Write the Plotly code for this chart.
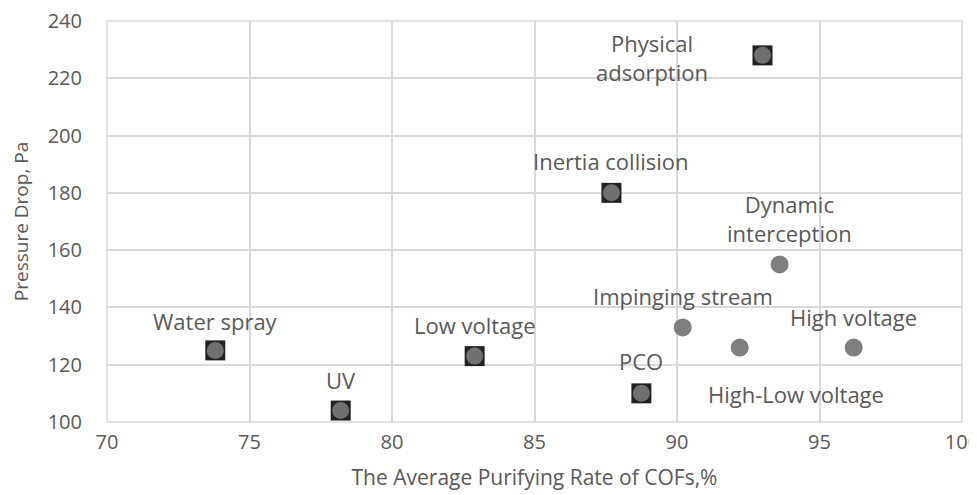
import plotly.graph_objects as go

# Square-marked technologies
sq_names = ["Water spray", "UV", "Low voltage", "Inertia collision", "Physical<br>adsorption", "PCO"]
sq_x = [73.8, 78.2, 82.9, 87.7, 93.0, 88.75]
sq_y = [125, 104, 123, 180, 228, 110]

# Circle-marked technologies
ci_names = ["Impinging stream", "High-Low voltage", "Dynamic<br>interception", "High voltage"]
ci_x = [90.2, 92.2, 93.6, 96.2]
ci_y = [133, 126, 155, 126]

# label offsets (pixels) relative to points
sq_off = [(0, 29), (0, 31), (0, 31), (0, 32), (-111, -2), (0, 32)]
ci_off = [(0, 31), (56, -46), (10, 46), (0, 31)]

font = "Open Sans"
grey = "#595959"

fig = go.Figure()
fig.add_trace(go.Scatter(x=sq_x, y=sq_y, mode="markers",
                         marker=dict(symbol="square", size=20, color="#222222",
                                     line=dict(width=0)), hoverinfo="skip"))
fig.add_trace(go.Scatter(x=sq_x, y=sq_y, mode="markers",
                         marker=dict(symbol="circle", size=17, color="#707070",
                                     line=dict(width=0)), hoverinfo="skip"))
fig.add_trace(go.Scatter(x=ci_x, y=ci_y, mode="markers",
                         marker=dict(symbol="circle", size=18, color="#7f7f7f",
                                     line=dict(width=0)), hoverinfo="skip"))

for n, x, y, (dx, dy) in zip(sq_names + ci_names, sq_x + ci_x, sq_y + ci_y, sq_off + ci_off):
    fig.add_annotation(x=x, y=y, text=n, showarrow=False, xshift=dx, yshift=dy,
                       font=dict(family=font, size=22, color=grey))

fig.update_layout(
    width=977, height=495,
    margin=dict(l=99, r=23, t=13, b=81),
    paper_bgcolor="white", plot_bgcolor="white",
    showlegend=False,
    font=dict(family=font, color=grey, size=20),
    xaxis=dict(range=[70, 100], dtick=5, showgrid=True, gridcolor="#d9d9d9", gridwidth=1.5,
               zeroline=False, showline=False, ticks="", automargin=False,
               ticklabelstandoff=6, ticklabeloverflow="allow",
               title=dict(text="The Average Purifying Rate of COFs,%", font=dict(size=21, color=grey), standoff=16),
               tickfont=dict(size=20, color=grey)),
    yaxis=dict(range=[100, 240], dtick=20, showgrid=True, gridcolor="#d9d9d9", gridwidth=1.5,
               zeroline=False, showline=False, ticks="", automargin=False,
               ticklabelstandoff=24, ticklabeloverflow="allow",
               title=dict(text="Pressure Drop, Pa", font=dict(size=19, color=grey), standoff=21),
               tickfont=dict(size=20, color=grey)),
)
fig.add_shape(type="rect", xref="paper", yref="paper", x0=0, x1=1, y0=0, y1=1,
              line=dict(color="#d9d9d9", width=1.5), layer="below")

fig.write_html("out.html")
